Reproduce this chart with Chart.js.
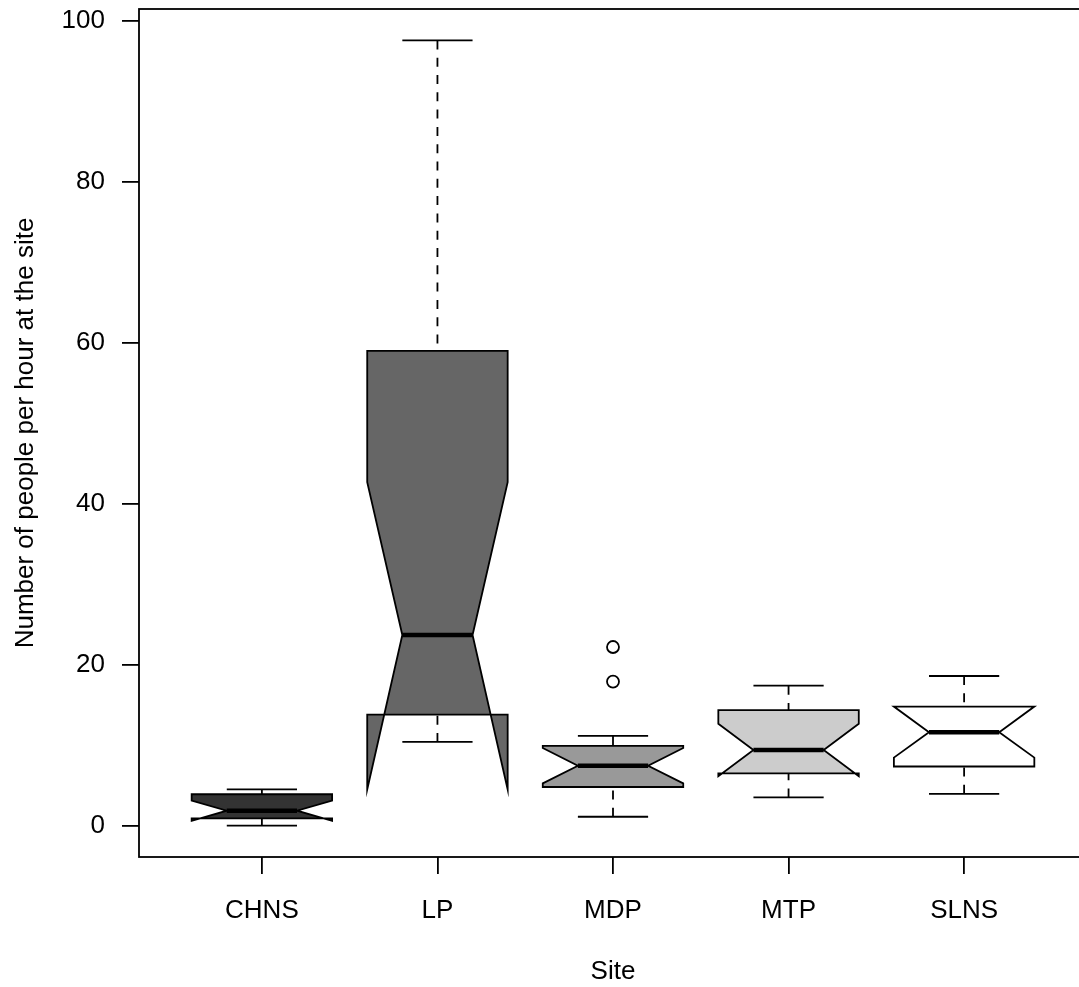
<!DOCTYPE html>
<html>
<head>
<meta charset="utf-8">
<script src="https://cdn.jsdelivr.net/npm/chart.js@4"></script>
<style>
  html, body { margin: 0; padding: 0; background: #fff; overflow: hidden; }
  #wrap { width: 1100px; height: 987px; }
</style>
</head>
<body>
<div id="wrap"><canvas id="boxChart" width="1100" height="987"></canvas></div>
<script>
    const sites = ['CHNS', 'LP', 'MDP', 'MTP', 'SLNS'];
    const whiskerLow = [0, 10.4, 1.1, 3.5, 3.95];
    const q1 = [0.9, 13.8, 4.8, 6.5, 7.35];
    const mediana = [1.85, 23.7, 7.45, 9.4, 11.6];
    const q3 = [3.9, 59.0, 9.9, 14.35, 14.8];
    const whiskerHigh = [4.5, 97.6, 11.15, 17.4, 18.6];
    const notchLow = [0.6, 4.5, 5.25, 6.15, 8.45];
    const notchHigh = [3.1, 42.7, 9.65, 12.65, 14.8];
    const outlierSite = [3, 3];
    const outlierValues = [17.9, 22.2];
    const yTicks = [0, 20, 40, 60, 80, 100];
    const cores = ['#333333', '#666666', '#999999', '#cccccc', '#ffffff'];

    const fonte = { family: 'Liberation Sans, Arial, sans-serif', size: 26 };
    const espessura = 1.8;
    Chart.defaults.color = '#000';

    const boxPlugin = {
        id: 'notchedBox',
        afterDatasetsDraw(chart) {
            const { ctx, chartArea, scales: { x, y } } = chart;
            const w = 0.4, wn = 0.2;
            ctx.save();
            ctx.strokeStyle = '#000';
            ctx.lineJoin = 'miter';

            sites.forEach((s, i) => {
                const c = i + 1;
                // bigodes tracejados
                ctx.lineWidth = espessura;
                ctx.setLineDash([9, 8.3]);
                ctx.beginPath();
                ctx.moveTo(x.getPixelForValue(c), y.getPixelForValue(whiskerLow[i]));
                ctx.lineTo(x.getPixelForValue(c), y.getPixelForValue(q1[i]));
                ctx.moveTo(x.getPixelForValue(c), y.getPixelForValue(whiskerHigh[i]));
                ctx.lineTo(x.getPixelForValue(c), y.getPixelForValue(q3[i]));
                ctx.stroke();
                ctx.setLineDash([]);

                // hastes
                ctx.beginPath();
                [whiskerLow[i], whiskerHigh[i]].forEach(v => {
                    ctx.moveTo(x.getPixelForValue(c - wn), y.getPixelForValue(v));
                    ctx.lineTo(x.getPixelForValue(c + wn), y.getPixelForValue(v));
                });
                ctx.stroke();

                // caixa com entalhe
                const pts = [
                    [c - w, q1[i]], [c - w, notchLow[i]], [c - wn, mediana[i]], [c - w, notchHigh[i]], [c - w, q3[i]],
                    [c + w, q3[i]], [c + w, notchHigh[i]], [c + wn, mediana[i]], [c + w, notchLow[i]], [c + w, q1[i]]
                ];
                ctx.beginPath();
                pts.forEach((p, k) => {
                    const px = x.getPixelForValue(p[0]);
                    const py = y.getPixelForValue(p[1]);
                    if (k === 0) ctx.moveTo(px, py); else ctx.lineTo(px, py);
                });
                ctx.closePath();
                ctx.fillStyle = cores[i];
                ctx.fill();
                ctx.lineWidth = espessura;
                ctx.stroke();

                // mediana
                ctx.lineWidth = 4.5;
                ctx.lineCap = 'butt';
                ctx.beginPath();
                ctx.moveTo(x.getPixelForValue(c - wn), y.getPixelForValue(mediana[i]));
                ctx.lineTo(x.getPixelForValue(c + wn), y.getPixelForValue(mediana[i]));
                ctx.stroke();
            });

            // moldura
            ctx.lineWidth = espessura;
            ctx.strokeRect(chartArea.left, chartArea.top, chartArea.right - chartArea.left, chartArea.bottom - chartArea.top);
            ctx.restore();
        }
    };

    new Chart(document.getElementById('boxChart'), {
        type: 'scatter',
        data: {
            datasets: [{
                data: outlierSite.map((s, i) => ({ x: s, y: outlierValues[i] })),
                pointRadius: 6,
                pointHoverRadius: 6,
                pointBorderWidth: espessura,
                borderColor: '#000',
                backgroundColor: '#fff'
            }]
        },
        options: {
            responsive: false,
            animation: false,
            devicePixelRatio: 1,
            layout: { padding: { top: 9, right: 13, left: 0, bottom: 0 } },
            plugins: { legend: { display: false }, tooltip: { enabled: false } },
            scales: {
                x: {
                    type: 'linear',
                    min: 0.3,
                    max: 5.7,
                    afterFit: scale => {
                        scale.height = 130;
                        scale.paddingLeft = 0;
                        scale.paddingRight = 0;
                    },
                    afterBuildTicks: axis => { axis.ticks = sites.map((s, i) => ({ value: i + 1 })); },
                    ticks: {
                        font: fonte,
                        padding: 21,
                        maxRotation: 0,
                        autoSkip: false,
                        callback: v => sites[v - 1]
                    },
                    grid: { drawOnChartArea: false, drawTicks: true, tickLength: 17, color: '#000', lineWidth: espessura },
                    border: { display: false },
                    title: { display: true, text: 'Site', font: fonte, padding: { top: 0, bottom: 0 } }
                },
                y: {
                    min: -3.9,
                    max: 101.5,
                    afterFit: scale => {
                        scale.width = 139;
                        scale.paddingTop = 0;
                        scale.paddingBottom = 0;
                    },
                    afterBuildTicks: axis => { axis.ticks = yTicks.map(v => ({ value: v })); },
                    ticks: { font: fonte, padding: 17 },
                    grid: { drawOnChartArea: false, drawTicks: true, tickLength: 17, color: '#000', lineWidth: espessura },
                    border: { display: false },
                    title: { display: true, text: 'Number of people per hour at the site', font: fonte, padding: { top: 10, bottom: 0 } }
                }
            }
        },
        plugins: [boxPlugin]
    });
</script>
</body>
</html>
